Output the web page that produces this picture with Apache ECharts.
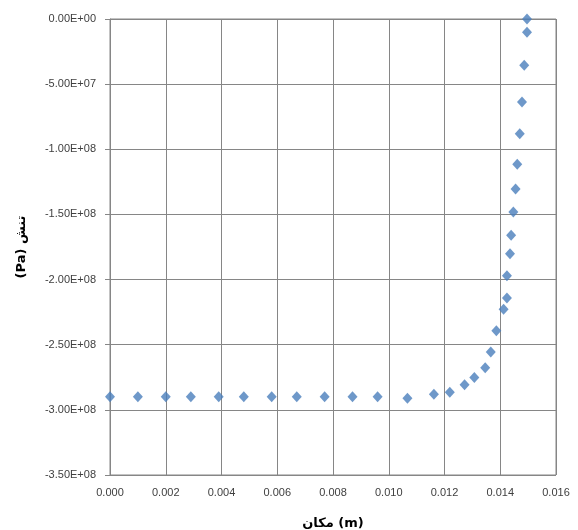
<!DOCTYPE html>
<html>
<head>
<meta charset="utf-8">
<script src="https://cdn.jsdelivr.net/npm/echarts@6/dist/echarts.min.js"></script>
<style>html,body{margin:0;padding:0;background:#fff}#c{width:578px;height:530px}</style>
</head>
<body>
<div id="c"></div>
<script>
var positions = [0, 0.001, 0.002, 0.0029, 0.0039, 0.0048, 0.0058, 0.0067, 0.0077, 0.0087, 0.0096,
  0.01067, 0.01162, 0.01219, 0.01272, 0.01307, 0.01346, 0.01366, 0.01386, 0.01412, 0.01424,
  0.01424, 0.01435, 0.01439, 0.01447, 0.01455, 0.01461, 0.0147, 0.01478, 0.01486, 0.01496, 0.01496];
var stresses = [-2.9e8, -2.9e8, -2.9e8, -2.9e8, -2.9e8, -2.9e8, -2.9e8, -2.9e8, -2.9e8, -2.9e8, -2.9e8,
  -2.91e8, -2.88e8, -2.865e8, -2.807e8, -2.751e8, -2.677e8, -2.556e8, -2.393e8, -2.228e8, -2.142e8,
  -1.971e8, -1.802e8, -1.66e8, -1.481e8, -1.305e8, -1.115e8, -8.8e7, -6.37e7, -3.55e7, -1.02e7, 0];
var xTitle = 'مکان (m)';
var yTitle = '(Pa) تنش';

function sci(v) {
  var s = Math.abs(v) < 1e-9 ? '0.00e+0' : v.toExponential(2);
  var parts = s.split('e');
  var sign = parts[1].charAt(0);
  var exp = parts[1].slice(1);
  if (exp.length < 2) exp = '0' + exp;
  return parts[0] + 'E' + sign + exp;
}

var data = positions.map(function (x, i) { return [x, stresses[i]]; });
var font = '"Liberation Sans", Arial, sans-serif';
var chart = echarts.init(document.getElementById('c'), null, {renderer: 'canvas'});
chart.setOption({
  animation: false,
  grid: {left: 110, right: 22, top: 19, bottom: 55, show: true, borderColor: '#868686', borderWidth: 1,
    containLabel: false, outerBoundsMode: 'none'},
  xAxis: {
    type: 'value', min: 0, max: 0.016, interval: 0.002,
    name: xTitle, nameLocation: 'middle', nameGap: 42,
    nameTextStyle: {fontFamily: '"DejaVu Sans", sans-serif', fontWeight: 'bold', fontSize: 13, color: '#000'},
    axisLine: {show: true, lineStyle: {color: '#868686'}},
    axisTick: {show: false},
    axisLabel: {fontFamily: font, fontSize: 11, color: '#404040', margin: 12,
      formatter: function (v) { return v.toFixed(3); }},
    splitLine: {show: true, lineStyle: {color: '#868686', width: 1}}
  },
  yAxis: {
    type: 'value', min: -3.5e8, max: 0, interval: 5e7,
    name: yTitle, nameLocation: 'middle', nameGap: 82, nameRotate: 90,
    nameTextStyle: {fontFamily: '"DejaVu Sans", sans-serif', fontWeight: 'bold', fontSize: 13, color: '#000'},
    axisLine: {show: true, onZero: false, lineStyle: {color: '#868686'}},
    axisTick: {show: true, length: 5, lineStyle: {color: '#868686'}},
    axisLabel: {fontFamily: font, fontSize: 11, color: '#404040', margin: 14, formatter: sci},
    splitLine: {show: true, lineStyle: {color: '#868686', width: 1}}
  },
  series: [{
    type: 'scatter', data: data, symbol: 'diamond', symbolSize: [10, 11],
    itemStyle: {color: '#4A7EBB'}, clip: false
  }]
});
</script>
</body>
</html>
